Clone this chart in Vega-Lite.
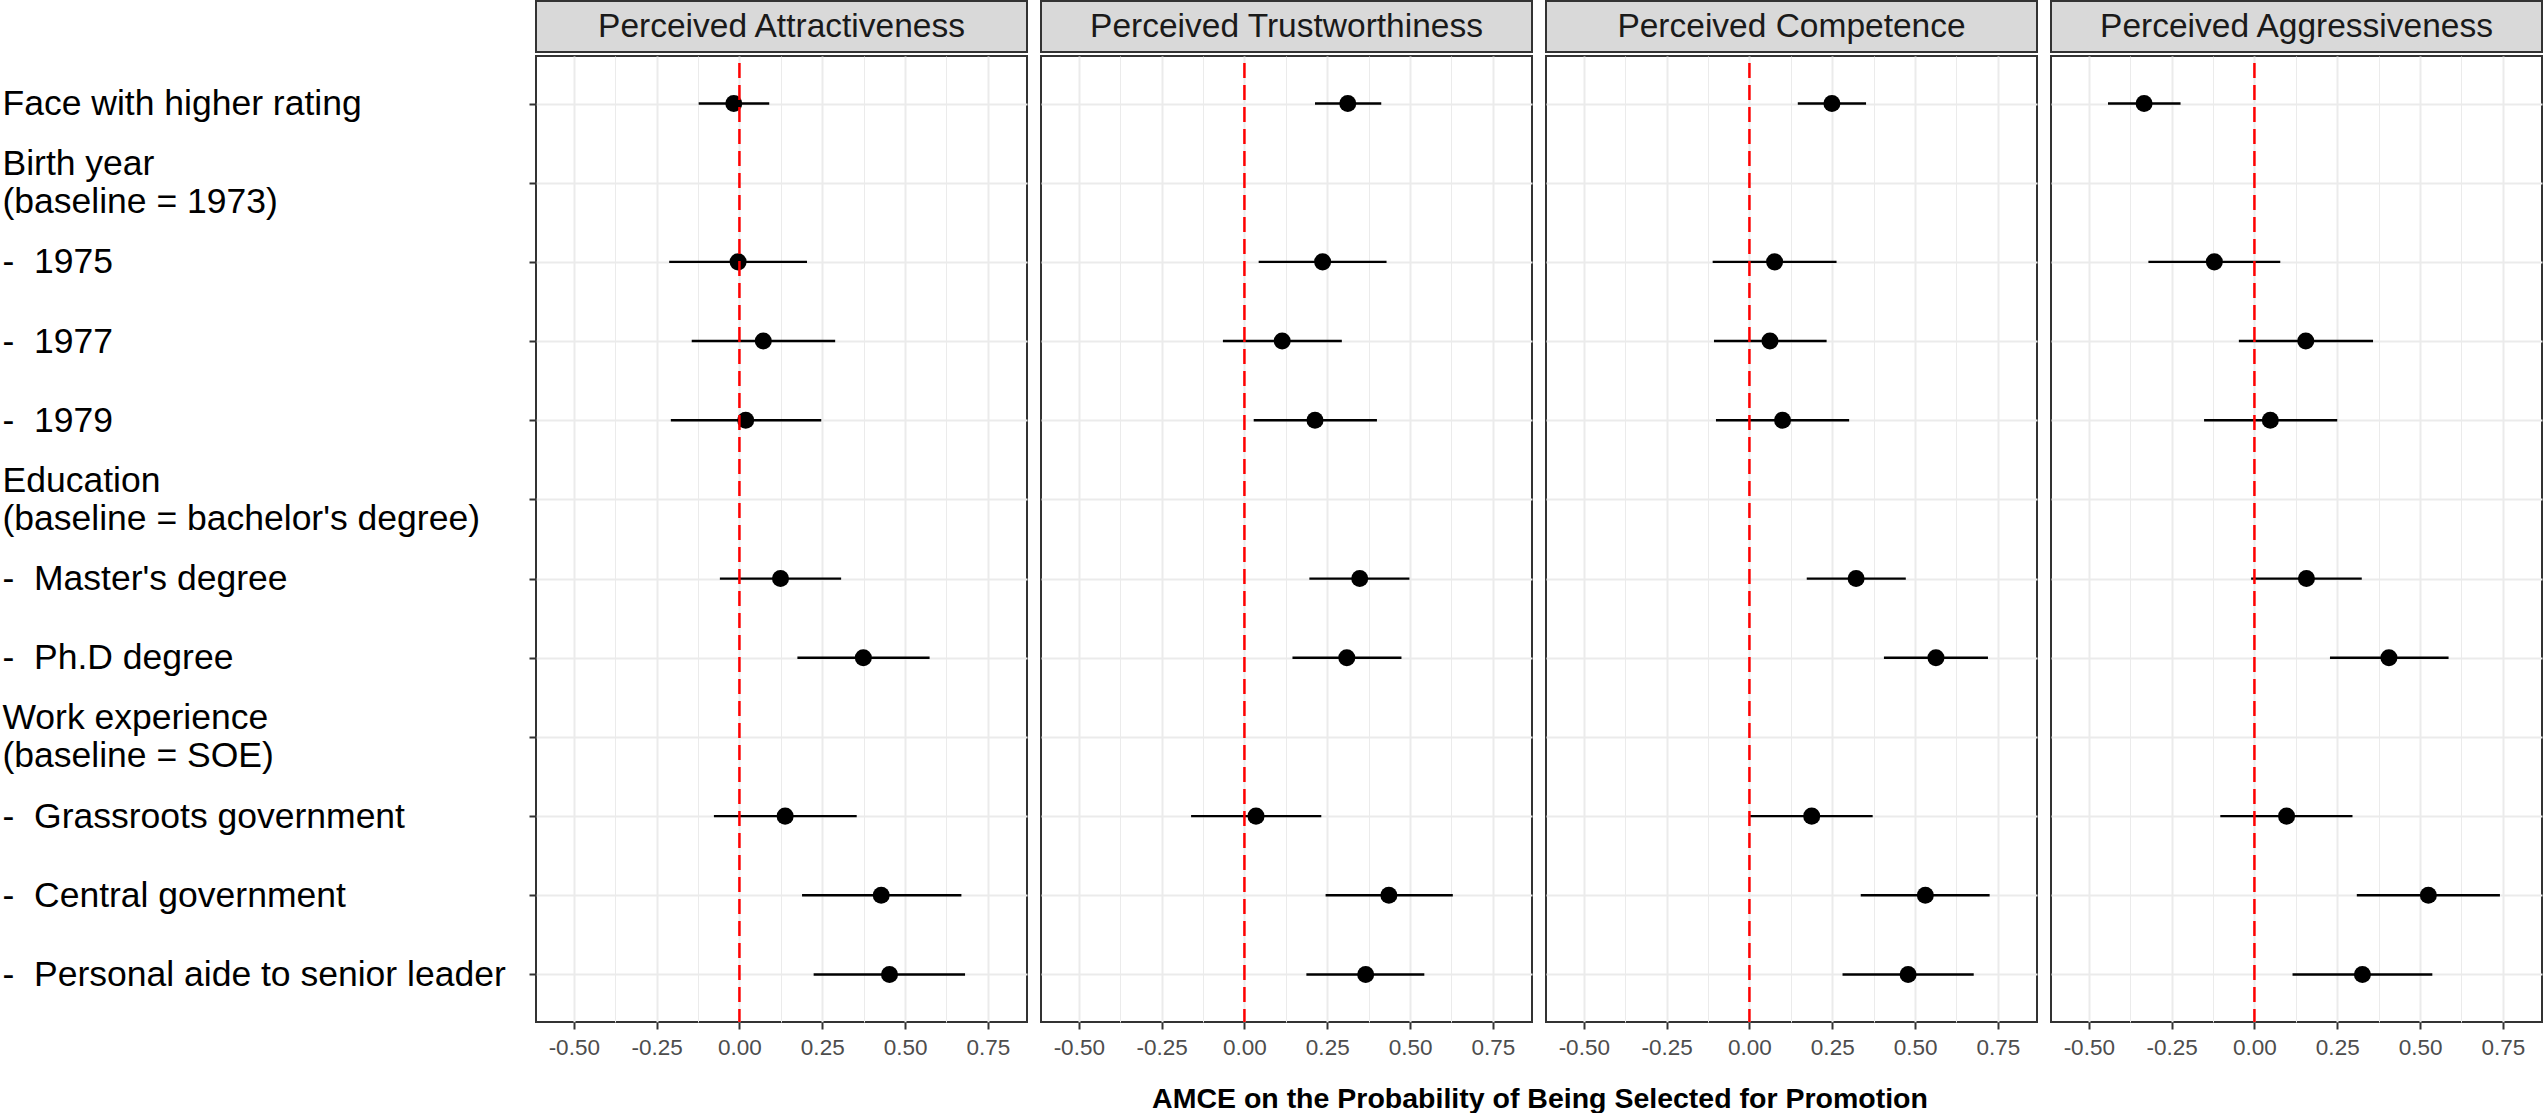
{
  "$schema": "https://vega.github.io/schema/vega-lite/v6.json",
  "background": "white",
  "padding": {"left": 1, "top": 0, "right": 0, "bottom": 0},
  "datasets": {
    "amce": [
      {"trait": "Perceived Attractiveness", "term": "Face with higher rating", "est": -0.017, "lo": -0.123, "hi": 0.090},
      {"trait": "Perceived Attractiveness", "term": "\u00a0-\u00a0\u00a01975", "est": -0.004, "lo": -0.212, "hi": 0.204},
      {"trait": "Perceived Attractiveness", "term": "\u00a0-\u00a0\u00a01977", "est": 0.072, "lo": -0.144, "hi": 0.289},
      {"trait": "Perceived Attractiveness", "term": "\u00a0-\u00a0\u00a01979", "est": 0.019, "lo": -0.207, "hi": 0.247},
      {"trait": "Perceived Attractiveness", "term": "\u00a0-\u00a0\u00a0Master's degree", "est": 0.124, "lo": -0.059, "hi": 0.307},
      {"trait": "Perceived Attractiveness", "term": "\u00a0-\u00a0\u00a0Ph.D degree", "est": 0.374, "lo": 0.175, "hi": 0.574},
      {"trait": "Perceived Attractiveness", "term": "\u00a0-\u00a0\u00a0Grassroots government", "est": 0.138, "lo": -0.077, "hi": 0.354},
      {"trait": "Perceived Attractiveness", "term": "\u00a0-\u00a0\u00a0Central government", "est": 0.428, "lo": 0.189, "hi": 0.670},
      {"trait": "Perceived Attractiveness", "term": "\u00a0-\u00a0\u00a0Personal aide to senior leader", "est": 0.453, "lo": 0.224, "hi": 0.681},

      {"trait": "Perceived Trustworthiness", "term": "Face with higher rating", "est": 0.312, "lo": 0.213, "hi": 0.413},
      {"trait": "Perceived Trustworthiness", "term": "\u00a0-\u00a0\u00a01975", "est": 0.236, "lo": 0.043, "hi": 0.429},
      {"trait": "Perceived Trustworthiness", "term": "\u00a0-\u00a0\u00a01977", "est": 0.114, "lo": -0.065, "hi": 0.294},
      {"trait": "Perceived Trustworthiness", "term": "\u00a0-\u00a0\u00a01979", "est": 0.213, "lo": 0.028, "hi": 0.400},
      {"trait": "Perceived Trustworthiness", "term": "\u00a0-\u00a0\u00a0Master's degree", "est": 0.348, "lo": 0.196, "hi": 0.498},
      {"trait": "Perceived Trustworthiness", "term": "\u00a0-\u00a0\u00a0Ph.D degree", "est": 0.309, "lo": 0.145, "hi": 0.474},
      {"trait": "Perceived Trustworthiness", "term": "\u00a0-\u00a0\u00a0Grassroots government", "est": 0.035, "lo": -0.161, "hi": 0.232},
      {"trait": "Perceived Trustworthiness", "term": "\u00a0-\u00a0\u00a0Central government", "est": 0.436, "lo": 0.245, "hi": 0.629},
      {"trait": "Perceived Trustworthiness", "term": "\u00a0-\u00a0\u00a0Personal aide to senior leader", "est": 0.366, "lo": 0.187, "hi": 0.543},

      {"trait": "Perceived Competence", "term": "Face with higher rating", "est": 0.249, "lo": 0.146, "hi": 0.352},
      {"trait": "Perceived Competence", "term": "\u00a0-\u00a0\u00a01975", "est": 0.076, "lo": -0.111, "hi": 0.263},
      {"trait": "Perceived Competence", "term": "\u00a0-\u00a0\u00a01977", "est": 0.062, "lo": -0.107, "hi": 0.233},
      {"trait": "Perceived Competence", "term": "\u00a0-\u00a0\u00a01979", "est": 0.100, "lo": -0.101, "hi": 0.301},
      {"trait": "Perceived Competence", "term": "\u00a0-\u00a0\u00a0Master's degree", "est": 0.322, "lo": 0.173, "hi": 0.472},
      {"trait": "Perceived Competence", "term": "\u00a0-\u00a0\u00a0Ph.D degree", "est": 0.563, "lo": 0.406, "hi": 0.720},
      {"trait": "Perceived Competence", "term": "\u00a0-\u00a0\u00a0Grassroots government", "est": 0.188, "lo": 0.002, "hi": 0.372},
      {"trait": "Perceived Competence", "term": "\u00a0-\u00a0\u00a0Central government", "est": 0.531, "lo": 0.336, "hi": 0.725},
      {"trait": "Perceived Competence", "term": "\u00a0-\u00a0\u00a0Personal aide to senior leader", "est": 0.479, "lo": 0.281, "hi": 0.677},

      {"trait": "Perceived Aggressiveness", "term": "Face with higher rating", "est": -0.333, "lo": -0.442, "hi": -0.223},
      {"trait": "Perceived Aggressiveness", "term": "\u00a0-\u00a0\u00a01975", "est": -0.121, "lo": -0.320, "hi": 0.078},
      {"trait": "Perceived Aggressiveness", "term": "\u00a0-\u00a0\u00a01977", "est": 0.155, "lo": -0.047, "hi": 0.358},
      {"trait": "Perceived Aggressiveness", "term": "\u00a0-\u00a0\u00a01979", "est": 0.048, "lo": -0.152, "hi": 0.250},
      {"trait": "Perceived Aggressiveness", "term": "\u00a0-\u00a0\u00a0Master's degree", "est": 0.157, "lo": -0.010, "hi": 0.324},
      {"trait": "Perceived Aggressiveness", "term": "\u00a0-\u00a0\u00a0Ph.D degree", "est": 0.406, "lo": 0.228, "hi": 0.586},
      {"trait": "Perceived Aggressiveness", "term": "\u00a0-\u00a0\u00a0Grassroots government", "est": 0.097, "lo": -0.103, "hi": 0.296},
      {"trait": "Perceived Aggressiveness", "term": "\u00a0-\u00a0\u00a0Central government", "est": 0.525, "lo": 0.309, "hi": 0.741},
      {"trait": "Perceived Aggressiveness", "term": "\u00a0-\u00a0\u00a0Personal aide to senior leader", "est": 0.326, "lo": 0.115, "hi": 0.537}
    ]
  },
  "data": {"name": "amce"},
  "title": {
    "text": "AMCE on the Probability of Being Selected for Promotion",
    "orient": "bottom",
    "anchor": "middle",
    "frame": "bounds",
    "dx": 268,
    "offset": 25,
    "font": "Liberation Sans",
    "fontSize": 28.5,
    "fontWeight": "bold",
    "color": "#000000"
  },
  "spacing": 12,
  "hconcat": [
    {
      "spacing": 0,
      "vconcat": [
        {
          "width": 491, "height": 51,
          "data": {"values": [{"panel": "Perceived Attractiveness"}]},
          "view": {"fill": "#D9D9D9", "stroke": "#333333", "strokeWidth": 2},
          "mark": {"type": "text", "font": "Liberation Sans", "fontSize": 33.5, "color": "#1A1A1A", "baseline": "middle", "align": "center"},
          "encoding": {"text": {"field": "panel"}}
        },
        {
          "width": 491, "height": 966,
          "layer": [
            {
              "transform": [{"filter": "datum.trait === 'Perceived Attractiveness'"}],
              "mark": {"type": "rule", "color": "#000000", "strokeWidth": 2.4},
              "encoding": {
                "y": {
                  "field": "term", "type": "nominal", "sort": null,
                  "scale": {"type": "point", "padding": 0.6, "domain": ["Face with higher rating", "Birth year\n(baseline = 1973)", "\u00a0-\u00a0\u00a01975", "\u00a0-\u00a0\u00a01977", "\u00a0-\u00a0\u00a01979", "Education\n(baseline = bachelor's degree)", "\u00a0-\u00a0\u00a0Master's degree", "\u00a0-\u00a0\u00a0Ph.D degree", "Work experience\n(baseline = SOE)", "\u00a0-\u00a0\u00a0Grassroots government", "\u00a0-\u00a0\u00a0Central government", "\u00a0-\u00a0\u00a0Personal aide to senior leader"]},
                  "axis": {"title": null, "domain": false, "grid": true, "gridColor": "#EBEBEB", "gridWidth": 2, "ticks": true, "tickSize": 7, "tickWidth": 2, "tickColor": "#333333", "labelAlign": "left", "labelBaseline": "middle", "labelPadding": 527, "labelFont": "Liberation Sans", "labelFontSize": 35.5, "labelColor": "#000000", "labelLimit": 800, "labelLineHeight": 38, "labelOverlap": false, "labelOffset": {"condition": {"test": "indexof(datum.label, '\\n') >= 0", "value": -19}, "value": 0}, "labelExpr": "split(datum.label, '\\n')"}
                },
                "x": {
                  "field": "lo", "type": "quantitative",
                  "scale": {"domain": [-0.614, 0.868], "nice": false, "zero": false},
                  "axis": {"title": null, "domain": false, "values": [-0.5, -0.375, -0.25, -0.125, 0, 0.125, 0.25, 0.375, 0.5, 0.625, 0.75], "grid": true, "gridColor": "#EBEBEB", "gridWidth": {"condition": {"test": "abs((datum.value * 8) % 2) == 1", "value": 1}, "value": 2}, "tickColor": "#333333", "tickWidth": 2, "tickSize": 7, "tickOpacity": {"condition": {"test": "abs((datum.value * 8) % 2) == 1", "value": 0}, "value": 1}, "labelExpr": "abs((datum.value * 8) % 2) == 1 ? '' : (datum.value < 0 ? '-' + format(-datum.value, '.2f') : format(datum.value, '.2f'))", "labelFont": "Liberation Sans", "labelFontSize": 22.5, "labelColor": "#4D4D4D", "labelPadding": 7, "labelOverlap": false, "labelFlush": false}
                },
                "x2": {"field": "hi"}
              }
            },
            {
              "transform": [{"filter": "datum.trait === 'Perceived Attractiveness'"}],
              "mark": {"type": "circle", "size": 290, "fill": "#000000", "opacity": 1},
              "encoding": {
                "y": {"field": "term", "type": "nominal", "sort": null},
                "x": {"field": "est", "type": "quantitative"}
              }
            },
            {
              "data": {"values": [{"ref": 0}]},
              "mark": {"type": "rule", "color": "#FF0000", "strokeWidth": 2.5, "strokeDash": [15, 7], "strokeDashOffset": 15},
              "encoding": {"x": {"field": "ref", "type": "quantitative"}}
            }
          ]
        }
      ]
    },
    {
      "spacing": 0,
      "vconcat": [
        {
          "width": 491, "height": 51,
          "data": {"values": [{"panel": "Perceived Trustworthiness"}]},
          "view": {"fill": "#D9D9D9", "stroke": "#333333", "strokeWidth": 2},
          "mark": {"type": "text", "font": "Liberation Sans", "fontSize": 33.5, "color": "#1A1A1A", "baseline": "middle", "align": "center"},
          "encoding": {"text": {"field": "panel"}}
        },
        {
          "width": 491, "height": 966,
          "layer": [
            {
              "transform": [{"filter": "datum.trait === 'Perceived Trustworthiness'"}],
              "mark": {"type": "rule", "color": "#000000", "strokeWidth": 2.4},
              "encoding": {
                "y": {
                  "field": "term", "type": "nominal", "sort": null,
                  "scale": {"type": "point", "padding": 0.6, "domain": ["Face with higher rating", "Birth year\n(baseline = 1973)", "\u00a0-\u00a0\u00a01975", "\u00a0-\u00a0\u00a01977", "\u00a0-\u00a0\u00a01979", "Education\n(baseline = bachelor's degree)", "\u00a0-\u00a0\u00a0Master's degree", "\u00a0-\u00a0\u00a0Ph.D degree", "Work experience\n(baseline = SOE)", "\u00a0-\u00a0\u00a0Grassroots government", "\u00a0-\u00a0\u00a0Central government", "\u00a0-\u00a0\u00a0Personal aide to senior leader"]},
                  "axis": {"title": null, "domain": false, "labels": false, "ticks": false, "grid": true, "gridColor": "#EBEBEB", "gridWidth": 2}
                },
                "x": {
                  "field": "lo", "type": "quantitative",
                  "scale": {"domain": [-0.614, 0.868], "nice": false, "zero": false},
                  "axis": {"title": null, "domain": false, "values": [-0.5, -0.375, -0.25, -0.125, 0, 0.125, 0.25, 0.375, 0.5, 0.625, 0.75], "grid": true, "gridColor": "#EBEBEB", "gridWidth": {"condition": {"test": "abs((datum.value * 8) % 2) == 1", "value": 1}, "value": 2}, "tickColor": "#333333", "tickWidth": 2, "tickSize": 7, "tickOpacity": {"condition": {"test": "abs((datum.value * 8) % 2) == 1", "value": 0}, "value": 1}, "labelExpr": "abs((datum.value * 8) % 2) == 1 ? '' : (datum.value < 0 ? '-' + format(-datum.value, '.2f') : format(datum.value, '.2f'))", "labelFont": "Liberation Sans", "labelFontSize": 22.5, "labelColor": "#4D4D4D", "labelPadding": 7, "labelOverlap": false, "labelFlush": false}
                },
                "x2": {"field": "hi"}
              }
            },
            {
              "transform": [{"filter": "datum.trait === 'Perceived Trustworthiness'"}],
              "mark": {"type": "circle", "size": 290, "fill": "#000000", "opacity": 1},
              "encoding": {
                "y": {"field": "term", "type": "nominal", "sort": null},
                "x": {"field": "est", "type": "quantitative"}
              }
            },
            {
              "data": {"values": [{"ref": 0}]},
              "mark": {"type": "rule", "color": "#FF0000", "strokeWidth": 2.5, "strokeDash": [15, 7], "strokeDashOffset": 15},
              "encoding": {"x": {"field": "ref", "type": "quantitative"}}
            }
          ]
        }
      ]
    },
    {
      "spacing": 0,
      "vconcat": [
        {
          "width": 491, "height": 51,
          "data": {"values": [{"panel": "Perceived Competence"}]},
          "view": {"fill": "#D9D9D9", "stroke": "#333333", "strokeWidth": 2},
          "mark": {"type": "text", "font": "Liberation Sans", "fontSize": 33.5, "color": "#1A1A1A", "baseline": "middle", "align": "center"},
          "encoding": {"text": {"field": "panel"}}
        },
        {
          "width": 491, "height": 966,
          "layer": [
            {
              "transform": [{"filter": "datum.trait === 'Perceived Competence'"}],
              "mark": {"type": "rule", "color": "#000000", "strokeWidth": 2.4},
              "encoding": {
                "y": {
                  "field": "term", "type": "nominal", "sort": null,
                  "scale": {"type": "point", "padding": 0.6, "domain": ["Face with higher rating", "Birth year\n(baseline = 1973)", "\u00a0-\u00a0\u00a01975", "\u00a0-\u00a0\u00a01977", "\u00a0-\u00a0\u00a01979", "Education\n(baseline = bachelor's degree)", "\u00a0-\u00a0\u00a0Master's degree", "\u00a0-\u00a0\u00a0Ph.D degree", "Work experience\n(baseline = SOE)", "\u00a0-\u00a0\u00a0Grassroots government", "\u00a0-\u00a0\u00a0Central government", "\u00a0-\u00a0\u00a0Personal aide to senior leader"]},
                  "axis": {"title": null, "domain": false, "labels": false, "ticks": false, "grid": true, "gridColor": "#EBEBEB", "gridWidth": 2}
                },
                "x": {
                  "field": "lo", "type": "quantitative",
                  "scale": {"domain": [-0.614, 0.868], "nice": false, "zero": false},
                  "axis": {"title": null, "domain": false, "values": [-0.5, -0.375, -0.25, -0.125, 0, 0.125, 0.25, 0.375, 0.5, 0.625, 0.75], "grid": true, "gridColor": "#EBEBEB", "gridWidth": {"condition": {"test": "abs((datum.value * 8) % 2) == 1", "value": 1}, "value": 2}, "tickColor": "#333333", "tickWidth": 2, "tickSize": 7, "tickOpacity": {"condition": {"test": "abs((datum.value * 8) % 2) == 1", "value": 0}, "value": 1}, "labelExpr": "abs((datum.value * 8) % 2) == 1 ? '' : (datum.value < 0 ? '-' + format(-datum.value, '.2f') : format(datum.value, '.2f'))", "labelFont": "Liberation Sans", "labelFontSize": 22.5, "labelColor": "#4D4D4D", "labelPadding": 7, "labelOverlap": false, "labelFlush": false}
                },
                "x2": {"field": "hi"}
              }
            },
            {
              "transform": [{"filter": "datum.trait === 'Perceived Competence'"}],
              "mark": {"type": "circle", "size": 290, "fill": "#000000", "opacity": 1},
              "encoding": {
                "y": {"field": "term", "type": "nominal", "sort": null},
                "x": {"field": "est", "type": "quantitative"}
              }
            },
            {
              "data": {"values": [{"ref": 0}]},
              "mark": {"type": "rule", "color": "#FF0000", "strokeWidth": 2.5, "strokeDash": [15, 7], "strokeDashOffset": 15},
              "encoding": {"x": {"field": "ref", "type": "quantitative"}}
            }
          ]
        }
      ]
    },
    {
      "spacing": 0,
      "vconcat": [
        {
          "width": 491, "height": 51,
          "data": {"values": [{"panel": "Perceived Aggressiveness"}]},
          "view": {"fill": "#D9D9D9", "stroke": "#333333", "strokeWidth": 2},
          "mark": {"type": "text", "font": "Liberation Sans", "fontSize": 33.5, "color": "#1A1A1A", "baseline": "middle", "align": "center"},
          "encoding": {"text": {"field": "panel"}}
        },
        {
          "width": 491, "height": 966,
          "layer": [
            {
              "transform": [{"filter": "datum.trait === 'Perceived Aggressiveness'"}],
              "mark": {"type": "rule", "color": "#000000", "strokeWidth": 2.4},
              "encoding": {
                "y": {
                  "field": "term", "type": "nominal", "sort": null,
                  "scale": {"type": "point", "padding": 0.6, "domain": ["Face with higher rating", "Birth year\n(baseline = 1973)", "\u00a0-\u00a0\u00a01975", "\u00a0-\u00a0\u00a01977", "\u00a0-\u00a0\u00a01979", "Education\n(baseline = bachelor's degree)", "\u00a0-\u00a0\u00a0Master's degree", "\u00a0-\u00a0\u00a0Ph.D degree", "Work experience\n(baseline = SOE)", "\u00a0-\u00a0\u00a0Grassroots government", "\u00a0-\u00a0\u00a0Central government", "\u00a0-\u00a0\u00a0Personal aide to senior leader"]},
                  "axis": {"title": null, "domain": false, "labels": false, "ticks": false, "grid": true, "gridColor": "#EBEBEB", "gridWidth": 2}
                },
                "x": {
                  "field": "lo", "type": "quantitative",
                  "scale": {"domain": [-0.614, 0.868], "nice": false, "zero": false},
                  "axis": {"title": null, "domain": false, "values": [-0.5, -0.375, -0.25, -0.125, 0, 0.125, 0.25, 0.375, 0.5, 0.625, 0.75], "grid": true, "gridColor": "#EBEBEB", "gridWidth": {"condition": {"test": "abs((datum.value * 8) % 2) == 1", "value": 1}, "value": 2}, "tickColor": "#333333", "tickWidth": 2, "tickSize": 7, "tickOpacity": {"condition": {"test": "abs((datum.value * 8) % 2) == 1", "value": 0}, "value": 1}, "labelExpr": "abs((datum.value * 8) % 2) == 1 ? '' : (datum.value < 0 ? '-' + format(-datum.value, '.2f') : format(datum.value, '.2f'))", "labelFont": "Liberation Sans", "labelFontSize": 22.5, "labelColor": "#4D4D4D", "labelPadding": 7, "labelOverlap": false, "labelFlush": false}
                },
                "x2": {"field": "hi"}
              }
            },
            {
              "transform": [{"filter": "datum.trait === 'Perceived Aggressiveness'"}],
              "mark": {"type": "circle", "size": 290, "fill": "#000000", "opacity": 1},
              "encoding": {
                "y": {"field": "term", "type": "nominal", "sort": null},
                "x": {"field": "est", "type": "quantitative"}
              }
            },
            {
              "data": {"values": [{"ref": 0}]},
              "mark": {"type": "rule", "color": "#FF0000", "strokeWidth": 2.5, "strokeDash": [15, 7], "strokeDashOffset": 15},
              "encoding": {"x": {"field": "ref", "type": "quantitative"}}
            }
          ]
        }
      ]
    }
  ],
  "config": {
    "font": "Liberation Sans",
    "view": {"stroke": "#333333", "strokeWidth": 2}
  }
}
